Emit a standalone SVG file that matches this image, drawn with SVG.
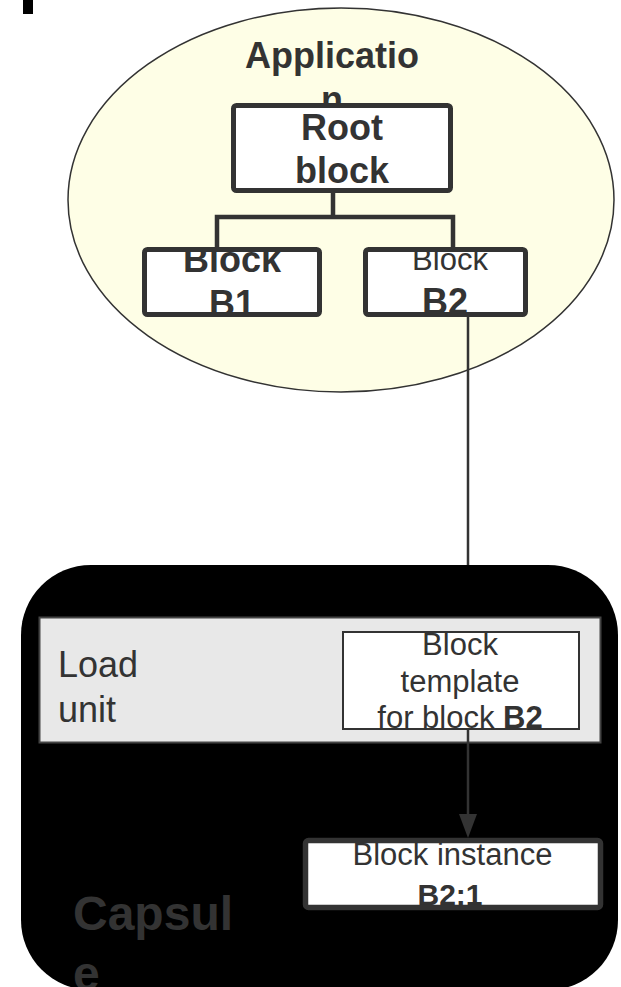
<svg xmlns="http://www.w3.org/2000/svg" width="621" height="987" viewBox="0 0 621 987">
<style>
text{font-family:"Liberation Sans",Arial,sans-serif;fill:#333}
.b{font-weight:bold}
.t36{font-size:36px}
.t31{font-size:31px}
.box{fill:#fff;stroke:#333;stroke-width:5}
.ol{fill:none;stroke:#333;stroke-width:5}
.tree{fill:none;stroke:#333;stroke-width:4.5}
.arr{fill:none;stroke:#333;stroke-width:2.5}
.head{fill:#333}
</style>
<defs>
<clipPath id="cB1"><rect x="142" y="247" width="180" height="70"/></clipPath>
<clipPath id="cB2"><rect x="363" y="247" width="165" height="70"/></clipPath>
<clipPath id="cI"><rect x="303" y="838" width="300" height="72"/></clipPath>
</defs>
<rect x="23" y="0" width="10" height="14" fill="#000"/>
<g id="application">
<ellipse cx="341" cy="200" rx="273" ry="192" fill="#fefee6" stroke="#333" stroke-width="1.5"/>
<text class="b t36" x="332" y="68" text-anchor="middle">Applicatio</text>
<text class="b t36" x="332" y="112" text-anchor="middle">n</text>
</g>
<g id="root">
<rect class="box" x="233.5" y="105.5" width="217" height="85" rx="3"/>
<text class="b t36" x="342" y="140" text-anchor="middle">Root</text>
<text class="b t36" x="342" y="183" text-anchor="middle">block</text>
</g>
<g id="connectors">
<path class="tree" d="M333 193V217M217 247V217H453V247"/>
<path class="arr" d="M468 317V610"/>
<polygon class="head" points="459,608 477,608 468,632"/>
</g>
<g id="b1">
<rect x="144.5" y="249.5" width="175" height="65" fill="#fff"/>
<g clip-path="url(#cB1)">
<text class="b t36" x="232" y="272" text-anchor="middle">Block</text>
<text class="b t36" x="232" y="316" text-anchor="middle">B1</text>
</g>
<rect class="ol" x="144.5" y="249.5" width="175" height="65" rx="3"/>
</g>
<g id="b2">
<rect x="365.5" y="249.5" width="160" height="65" fill="#fff"/>
<g clip-path="url(#cB2)">
<text class="t31" x="450" y="270" text-anchor="middle">Block</text>
<text class="b t36" x="445" y="314" text-anchor="middle">B2</text>
</g>
<rect class="ol" x="365.5" y="249.5" width="160" height="65" rx="3"/>
</g>
<g id="capsule">
<rect x="21" y="565" width="597" height="425" rx="70" fill="#000"/>
<text class="b" x="73" y="930" style="font-size:48px">Capsul</text>
<text class="b" x="73" y="990" style="font-size:48px">e</text>
</g>
<g id="loadunit">
<rect x="39.5" y="617.5" width="561" height="125" fill="#e8e8e8" stroke="#444" stroke-width="2"/>
<text class="t36" x="58" y="677">Load</text>
<text class="t36" x="58" y="722">unit</text>
</g>
<g id="template">
<rect x="343" y="632" width="236" height="97" fill="#fff" stroke="#333" stroke-width="2"/>
<text class="t31" x="460" y="655" text-anchor="middle">Block</text>
<text class="t31" x="460" y="692" text-anchor="middle">template</text>
<text class="t31" x="460" y="728" text-anchor="middle">for block <tspan class="b">B2</tspan></text>
</g>
<g id="connectors2">
<path class="arr" d="M468 729V816"/>
<polygon class="head" points="459,814 477,814 468,838"/>
</g>
<g id="instance">
<rect x="305.5" y="840.5" width="295" height="67" fill="#fff"/>
<g clip-path="url(#cI)">
<text class="t31" x="452.5" y="865" text-anchor="middle">Block instance</text>
<text class="b" x="450" y="905" text-anchor="middle" style="font-size:30px">B2:1</text>
</g>
<rect x="305.5" y="840.5" width="295" height="67" rx="3" fill="none" stroke="#333" stroke-width="5.5"/>
</g>
</svg>
